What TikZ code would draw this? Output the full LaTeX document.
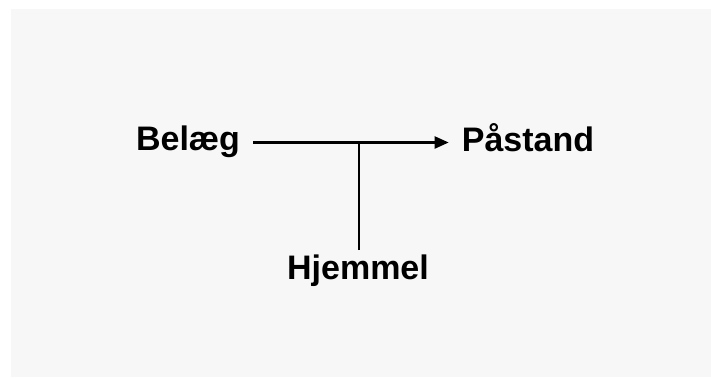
\documentclass[tikz,border=0pt]{standalone}
\usepackage{fontspec}
\setmainfont{Liberation Sans}
\usetikzlibrary{arrows.meta}

\begin{document}
\begin{tikzpicture}[
      x=1pt, y=-1pt,
      every node/.style={font=\fontsize{34}{40}\selectfont\bfseries, inner xsep=13pt, inner ysep=4pt},
      pil/.style={line width=2.3pt, -{Triangle[length=14pt, width=12pt]}},
      streg/.style={line width=2.3pt},
    ]
    \useasboundingbox (0,0) rectangle (711,377);
    \fill[white] (0,0) rectangle (711,377);
    \fill[black!3] (11,9) rectangle (711,377);
    \coordinate (led) at (359,142.5);
    \node[anchor=base] (belaeg) at (188,150) {Belæg};
    \node[anchor=base] (paastand) at (528,151) {Påstand};
    \node[anchor=base] (hjemmel) at (358,279) {Hjemmel};
    \draw[pil] (belaeg.east |- led) -- (paastand.west |- led);
    \draw[streg] (hjemmel.north -| led) -- (led);
    \end{tikzpicture}
\end{document}
